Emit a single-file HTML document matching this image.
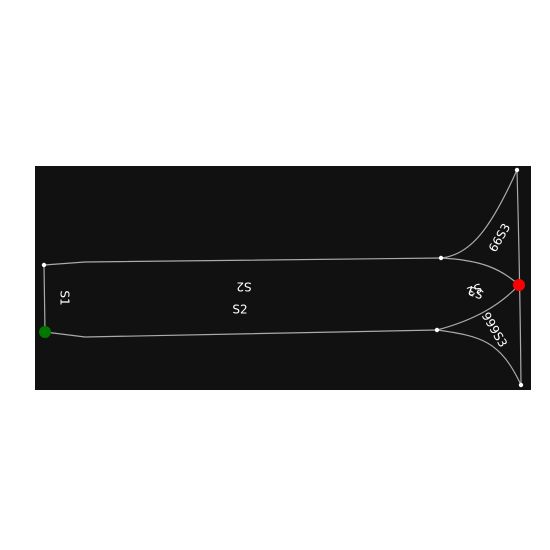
<!DOCTYPE html>
<html><head><style>html,body{margin:0;padding:0;background:#fff}svg{display:block}</style></head>
<body>
<svg width="550" height="550" viewBox="0 0 550 550" font-family="DejaVu Sans, Liberation Sans, sans-serif" font-size="12" fill="#fff">
<rect x="35" y="166" width="496" height="224" fill="#111111"/>
<g fill="none" stroke="#aaaaaa" stroke-width="1.2">
<path d="M44 265 L45 332"/>
<path d="M44 265 L85 262 L441 258"/>
<path d="M45 332 L85 337 L437 330"/>
<path d="M441 258 C470 255 490 230 517 170"/>
<path d="M441 258 C480 260 500 268 519 285"/>
<path d="M437 330 C475 320 500 305 519 285"/>
<path d="M437 330 C480 336 500 340 521 385"/>
<path d="M517 170 Q520 280 521 385"/>
</g>
<g>
<circle cx="44" cy="265" r="2.2" fill="#fff"/>
<circle cx="441" cy="258" r="2.2" fill="#fff"/>
<circle cx="437" cy="330" r="2.2" fill="#fff"/>
<circle cx="517" cy="170" r="2.2" fill="#fff"/>
<circle cx="521" cy="385" r="2.2" fill="#fff"/>
<circle cx="45" cy="332" r="6" fill="#007700"/>
<circle cx="519" cy="285" r="6" fill="#ff0000"/>
</g>
<g text-anchor="middle" dominant-baseline="middle">
<text transform="translate(64,298) rotate(90)">S1</text>
<text transform="translate(244,286) rotate(180)">S2</text>
<text x="240" y="310">S2</text>
<text transform="translate(500,238) rotate(-60)">66S3</text>
<text transform="translate(476,292) rotate(200)">S3</text>
<text transform="translate(474,289) rotate(160)">S2</text>
<text transform="translate(494,330) rotate(60)">999S3</text>
</g>
</svg>
</body></html>
